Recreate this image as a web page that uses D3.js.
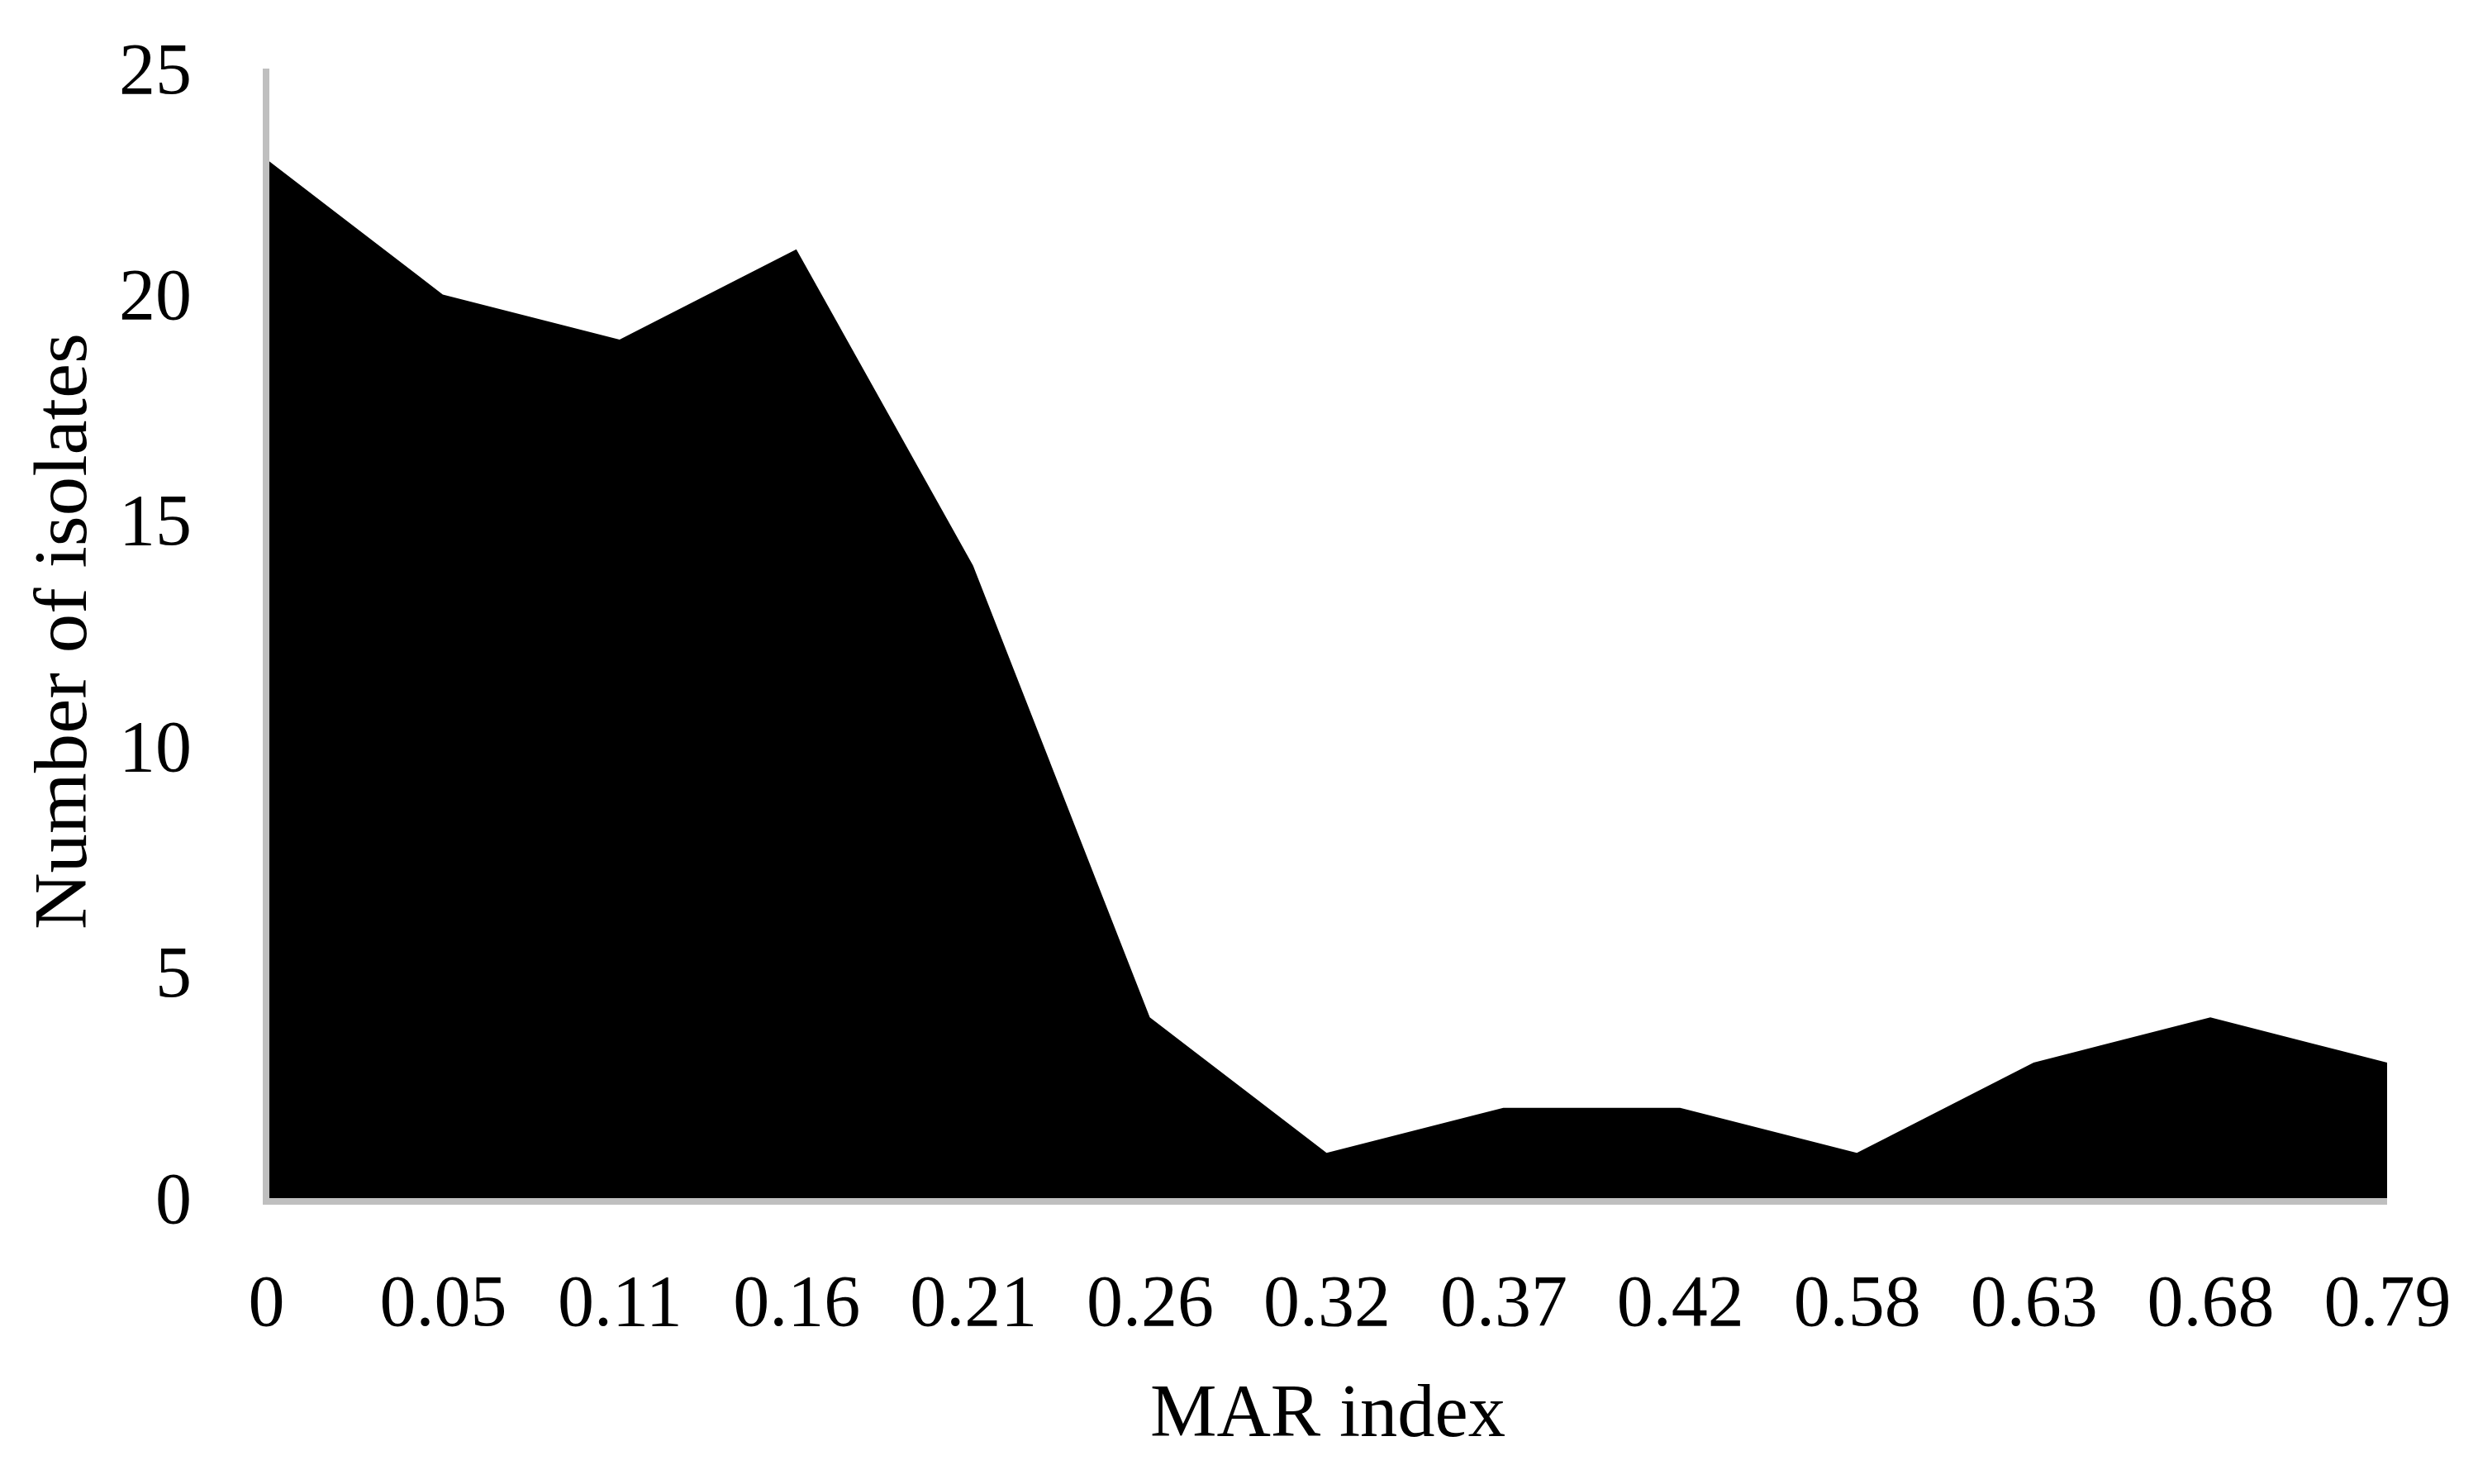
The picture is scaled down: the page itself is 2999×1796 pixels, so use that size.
<!DOCTYPE html>
<html>
<head>
<meta charset="utf-8">
<script src="https://cdn.jsdelivr.net/npm/d3@7"></script>
<style>
  html, body { margin: 0; padding: 0; background: #fff; }
  svg { display: block; }
  text { font-family: "Liberation Serif", "DejaVu Serif", serif; fill: #000; }
</style>
</head>
<body>
<svg id="chart" width="2999" height="1796"></svg>
<script>
const categories = ["0", "0.05", "0.11", "0.16", "0.21", "0.26", "0.32", "0.37", "0.42", "0.58", "0.63", "0.68", "0.79"];
const isolates = [23, 20, 19, 21, 14, 4, 1, 2, 2, 1, 3, 4, 3];
const yTicks = [0, 5, 10, 15, 20, 25];
const xTitle = "MAR index";
const yTitle = "Number of isolates";

const svg = d3.select("#chart");
const plotLeft = 322, plotRight = 2889, plotTop = 83, plotBottom = 1450;

const x = d3.scalePoint().domain(categories).range([plotLeft, plotRight]).padding(0);
const y = d3.scaleLinear().domain([0, 25]).range([plotBottom, plotTop]);

const data = categories.map((c, i) => ({ c, v: isolates[i] }));

const area = d3.area()
  .x(d => x(d.c))
  .y0(y(0))
  .y1(d => y(d.v));

svg.append("path")
  .datum(data)
  .attr("d", area)
  .attr("fill", "#000");

// x axis
const xAxis = d3.axisBottom(x).tickSize(0).tickPadding(0);
const gx = svg.append("g").attr("transform", `translate(0,${plotBottom + 4})`).call(xAxis);
gx.select(".domain").attr("stroke", "#bfbfbf").attr("stroke-width", 8)
  .attr("d", `M${plotLeft - 4},0H${plotRight}`);
gx.selectAll(".tick text")
  .attr("font-size", 88)
  .attr("font-family", "Liberation Serif, serif")
  .attr("dy", 0)
  .attr("y", 150)
  .attr("fill", "#000");

// y axis
const yAxis = d3.axisLeft(y).tickValues(yTicks).tickSize(0).tickPadding(0);
const gy = svg.append("g").attr("transform", `translate(${plotLeft},0)`).call(yAxis);
gy.select(".domain").attr("stroke", "#bfbfbf").attr("stroke-width", 8)
  .attr("d", `M0,${plotTop}V${plotBottom + 8}`);
gy.selectAll(".tick text")
  .attr("font-size", 88)
  .attr("font-family", "Liberation Serif, serif")
  .attr("x", -90)
  .attr("dy", "0.33em")
  .attr("fill", "#000");

// titles
svg.append("text")
  .attr("x", 1607).attr("y", 1738)
  .attr("text-anchor", "middle")
  .attr("font-size", 90)
  .attr("textLength", 430)
  .attr("lengthAdjust", "spacingAndGlyphs")
  .text(xTitle);

svg.append("text")
  .attr("transform", "translate(104,764) rotate(-90)")
  .attr("text-anchor", "middle")
  .attr("font-size", 90)
  .attr("textLength", 722)
  .attr("lengthAdjust", "spacingAndGlyphs")
  .text(yTitle);
</script>
</body>
</html>
